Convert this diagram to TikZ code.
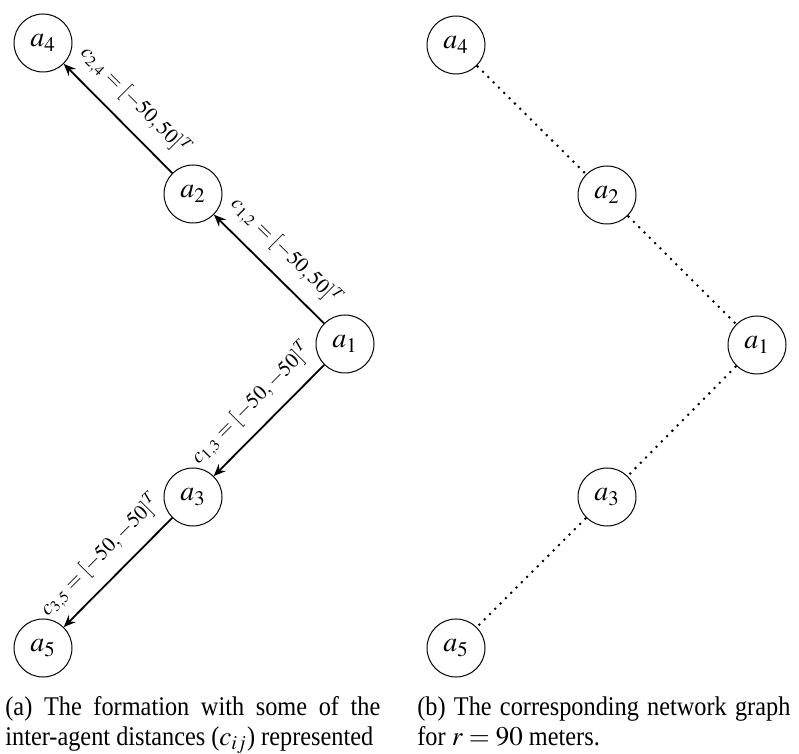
\documentclass[tikz,border=0pt]{standalone}
\usepackage{mathptmx}
\usepackage{fontspec}
\setmainfont{Liberation Serif}
\newfontfamily\capfont[FakeStretch=0.9]{Liberation Serif}
\usetikzlibrary{arrows.meta}

\begin{document}
\begin{tikzpicture}[x=0.5pt,y=-0.5pt,
  agent/.style={circle,draw,line width=0.5pt,minimum size=29pt,inner sep=0pt,
                font=\fontsize{14}{16}\selectfont},
  rel/.style={line width=0.9pt,-{Stealth[length=6pt,width=5pt,inset=2pt]}},
  link/.style={line width=1pt,dash pattern=on 1pt off 2.75pt},
  dist/.style={midway,above=2.5pt,sloped,font=\fontsize{10.5}{12}\selectfont},
  captxt/.style={anchor=base west,inner sep=0pt,font=\capfont\fontsize{13.5}{16}\selectfont}]
\useasboundingbox (0,0) rectangle (799,754);

% (a) formation with relative displacements
\node[agent] (la4) at (43,43)   {$a_4$};
\node[agent] (la2) at (193,194) {$a_2$};
\node[agent] (la1) at (345,344) {$a_1$};
\node[agent] (la3) at (193,497) {$a_3$};
\node[agent] (la5) at (43,648)  {$a_5$};

\draw[rel] (la2) -- node[dist] {$c_{2,4} = [-50,50]^T$} (la4);
\draw[rel] (la1) -- node[dist] {$c_{1,2} = [-50,50]^T$} (la2);
\draw[rel] (la1) -- node[dist] {$c_{1,3} = [-50,-50]^T$} (la3);
\draw[rel] (la3) -- node[dist] {$c_{3,5} = [-50,-50]^T$} (la5);

% (b) communication graph
\node[agent] (ra4) at (456,45)  {$a_4$};
\node[agent] (ra2) at (607,195) {$a_2$};
\node[agent] (ra1) at (757,345) {$a_1$};
\node[agent] (ra3) at (607,497) {$a_3$};
\node[agent] (ra5) at (456,648) {$a_5$};

\draw[link] (ra4) -- (ra2);
\draw[link] (ra2) -- (ra1);
\draw[link] (ra1) -- (ra3);
\draw[link] (ra3) -- (ra5);

% sub-captions
\node[captxt] (capa1) at (5,715)   {\makebox[187.5pt][s]{(a) The formation with some of the}};
\node[captxt] (capa2) at (5,745)   {inter-agent distances ($c_{ij}$) represented};
\node[captxt] (capb1) at (417,715) {\makebox[186.5pt][s]{(b) The corresponding network graph}};
\node[captxt] (capb2) at (417,745) {for $r = 90$ meters.};
\end{tikzpicture}
\end{document}
